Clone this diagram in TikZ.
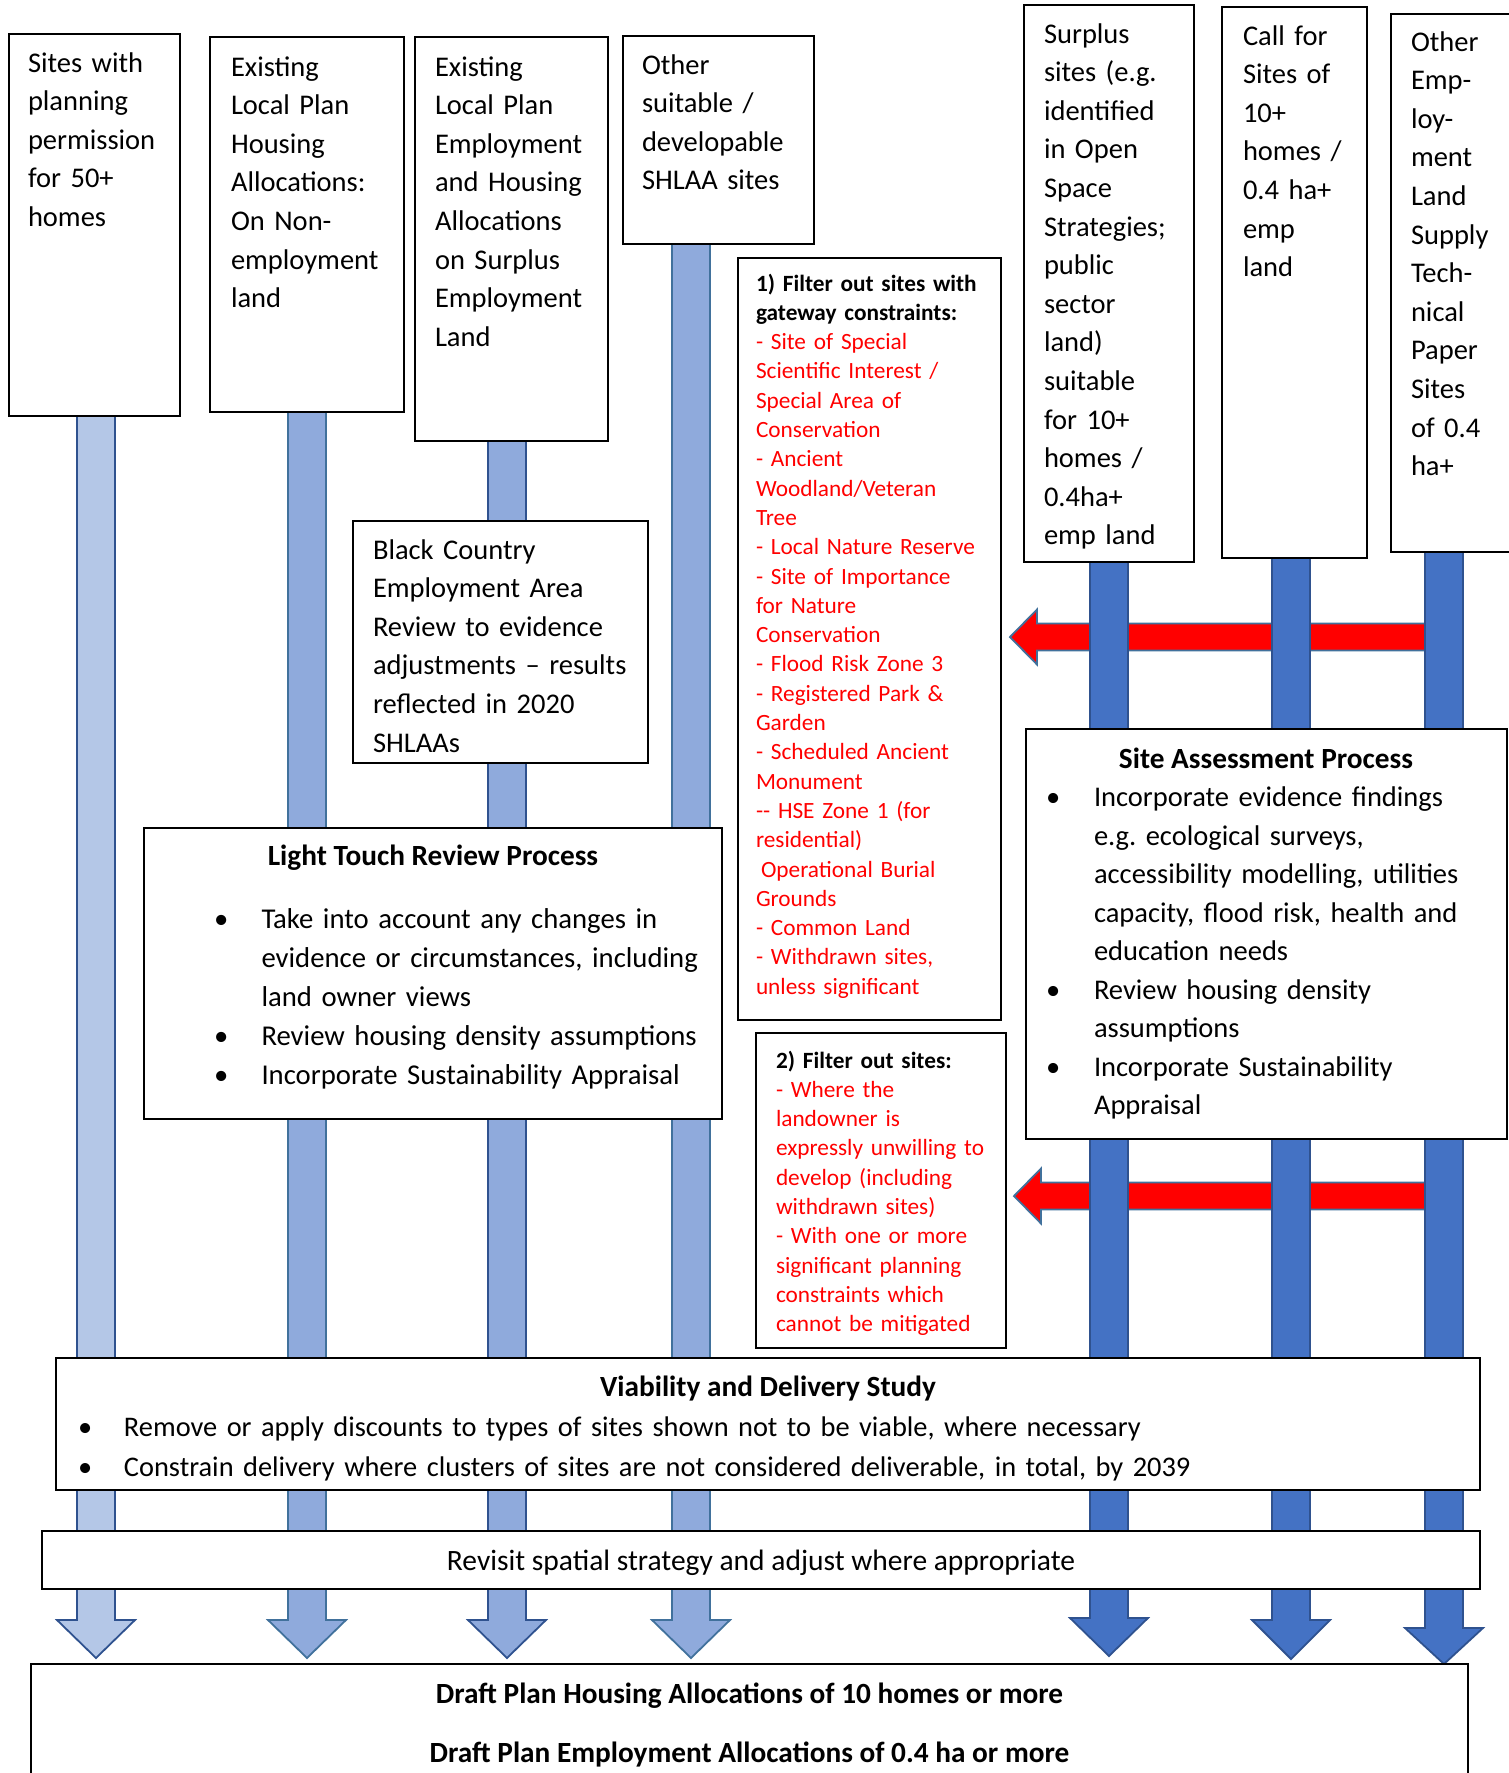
\documentclass[tikz,border=0pt]{standalone}
\usepackage{fontspec}
\setmainfont{Carlito}
\usetikzlibrary{calc}
\definecolor{barA}{HTML}{B4C7E7}
\definecolor{barB}{HTML}{8FAADC}
\definecolor{barE}{HTML}{4472C4}
\definecolor{lnA}{HTML}{2F528F}
\definecolor{lnB}{HTML}{41719C}
\pgfdeclarelayer{back}
\pgfdeclarelayer{backback}
\pgfsetlayers{backback,back,main}
\frenchspacing
\newcommand\blkarrow[5]{%
  \path[fill=#4,draw=#5,line width=1.8pt,line join=miter]
   let \p1=(#1) in
   (\x1-19pt,\y1) -- (\x1+19pt,\y1) -- (\x1+19pt,-#2pt) -- (\x1+39pt,-#2pt)
   -- (\x1,-#3pt) -- (\x1-39pt,-#2pt) -- (\x1-19pt,-#2pt) -- cycle;}
\newcommand\redarr[2]{%
  \path[fill=red,draw=lnB,line width=1.8pt,line join=miter]
   let \p1=(#1), \p2=(#2) in
   (\p1) -- (\x1+27pt,\y1+27.5pt) -- (\x1+27pt,\y1+13.5pt) -- (\x2,\y1+13.5pt)
   -- (\x2,\y1-13.5pt) -- (\x1+27pt,\y1-13.5pt) -- (\x1+27pt,\y1-27.5pt) -- cycle;}
\begin{document}
\begin{tikzpicture}[x=1pt,y=-1pt,
  box/.style={draw=black,line width=1.6pt,fill=white,anchor=north west,inner sep=0pt,outer sep=0pt},
  txt/.style={anchor=north west,inner sep=0pt,outer sep=0pt,align=left,text width=#1,
     font=\frenchspacing\fontsize{28.5}{38.6}\selectfont},
  txt/.default=200pt,
  redtxt/.style={anchor=north west,inner sep=0pt,outer sep=0pt,align=left,text width=#1,
     text=red,font=\frenchspacing\fontsize{23.3}{29.3}\selectfont},
  head/.style={anchor=base,inner sep=0pt,font=\bfseries\fontsize{29.3}{38.6}\selectfont},
  plain/.style={anchor=base,inner sep=0pt,font=\fontsize{29.5}{38.6}\selectfont}
]
\useasboundingbox (0,0) rectangle (1509,1773);

% ---------- boxes ----------
\node[box,minimum width=171pt,minimum height=382pt] (A) at (9,34) {};
\node[box,minimum width=194pt,minimum height=375pt] (B) at (210,37) {};
\node[box,minimum width=193pt,minimum height=404pt] (C) at (415,37) {};
\node[box,minimum width=191pt,minimum height=208pt] (D) at (623,36) {};
\node[box,minimum width=170pt,minimum height=557pt] (E) at (1024,5) {};
\node[box,minimum width=145pt,minimum height=551pt] (F) at (1222,7) {};
\node[box,minimum width=140pt,minimum height=538pt] (G) at (1391,14) {};
\node[box,minimum width=295pt,minimum height=242pt] (BC) at (353,521) {};
\node[box,minimum width=578pt,minimum height=291pt] (LT) at (144,828) {};
\node[box,minimum width=263pt,minimum height=762pt] (F1) at (738,258) {};
\node[box,minimum width=250pt,minimum height=315pt] (F2) at (756,1033) {};
\node[box,minimum width=481pt,minimum height=410pt] (SA) at (1026,729) {};
\node[box,minimum width=1424pt,minimum height=132pt] (VD) at (56,1358) {};
\node[box,minimum width=1438pt,minimum height=58pt] (RV) at (42,1531) {};
\node[box,minimum width=1437pt,minimum height=150pt] (FN) at (31,1664) {};

% ---------- texts ----------
\node[txt=150pt] (At) at (28,45) {\strut Sites with\\planning\\permission\\for 50+\\homes};
\node[txt=170pt] (Bt) at (231,49) {\strut Existing\\Local Plan\\Housing\\Allocations:\\On Non-\\employment\\land};
\node[txt=170pt] (Ct) at (435,49) {\strut Existing\\Local Plan\\Employment\\and Housing\\Allocations\\on Surplus\\Employment\\Land};
\node[txt=170pt] (Dt) at (642,47) {\strut Other\\suitable /\\developable\\SHLAA sites};
\node[txt=150pt] (Et) at (1044,16) {\strut Surplus\\sites (e.g.\\identified\\in Open\\Space\\Strategies;\\public\\sector\\land)\\suitable\\for 10+\\homes /\\0.4ha+\\emp land};
\node[txt=125pt] (Ft) at (1243,18) {\strut Call for\\Sites of\\10+\\homes /\\0.4 ha+\\emp\\land};
\node[txt=100pt] (Gt) at (1411,24) {\strut Other\\Emp-\\loy-\\ment\\Land\\Supply\\Tech-\\nical\\Paper\\Sites\\of 0.4\\ha+};
\node[txt=270pt] (BCt) at (373,532) {\strut Black Country\\Employment Area\\Review to evidence\\adjustments – results\\reflected in 2020\\SHLAAs};

\node[head] (LTh) at (433,865) {Light Touch Review Process};
\node[txt=500pt,font=\frenchspacing\fontsize{28.7}{39.2}\selectfont] (LTt) at (214,900.6)
 {\strut\makebox[47.5pt][l]{•}Take into account any changes in\\
  \hspace*{47.5pt}evidence or circumstances, including\\
  \hspace*{47.5pt}land owner views\\
  \makebox[47.5pt][l]{•}Review housing density assumptions\\
  \makebox[47.5pt][l]{•}Incorporate Sustainability Appraisal};

\node[redtxt=240pt] (F1t) at (756,270.5)
 {\strut\textcolor{black}{\textbf{1) Filter out sites with}}\\
  \textcolor{black}{\textbf{gateway constraints:}}\\
  - Site of Special\\Scientific Interest /\\Special Area of\\Conservation\\
  - Ancient\\Woodland/Veteran\\Tree\\- Local Nature Reserve\\
  - Site of Importance\\for Nature\\Conservation\\- Flood Risk Zone 3\\
  - Registered Park \&\\Garden\\- Scheduled Ancient\\Monument\\
  -{}- HSE Zone 1 (for\\residential)\\\hspace*{5pt}Operational Burial\\Grounds\\
  - Common Land\\- Withdrawn sites,\\unless significant};

\node[redtxt=225pt] (F2t) at (776,1047.5)
 {\strut\textcolor{black}{\textbf{2) Filter out sites:}}\\
  - Where the\\landowner is\\expressly unwilling to\\develop (including\\withdrawn sites)\\
  - With one or more\\significant planning\\constraints which\\cannot be mitigated};

\node[head] (SAh) at (1266,768) {Site Assessment Process};
\node[txt=460pt,font=\frenchspacing\fontsize{28.5}{38.5}\selectfont] (SAt) at (1046,780)
 {\strut\makebox[48pt][l]{•}Incorporate evidence findings\\
  \hspace*{48pt}e.g. ecological surveys,\\
  \hspace*{48pt}accessibility modelling, utilities\\
  \hspace*{48pt}capacity, flood risk, health and\\
  \hspace*{48pt}education needs\\
  \makebox[48pt][l]{•}Review housing density\\
  \hspace*{48pt}assumptions\\
  \makebox[48pt][l]{•}Incorporate Sustainability\\
  \hspace*{48pt}Appraisal};

\node[head] (VDh) at (768,1396) {Viability and Delivery Study};
\node[txt=1380pt,font=\frenchspacing\fontsize{28.4}{40}\selectfont] (VDt) at (78,1408)
 {\strut\makebox[46pt][l]{•}Remove or apply discounts to types of sites shown not to be viable, where necessary\\
  \makebox[46pt][l]{•}Constrain delivery where clusters of sites are not considered deliverable, in total, by 2039};

\node[plain] (RVt) at (761,1570) {Revisit spatial strategy and adjust where appropriate};
\node[head] (FNa) at (749.5,1703) {Draft Plan Housing Allocations of 10 homes or more};
\node[head] (FNb) at (749.5,1762) {Draft Plan Employment Allocations of 0.4 ha or more};

% ---------- column coordinates ----------
\coordinate (cA) at (96,0);
\coordinate (cB) at (307,0);
\coordinate (cC) at (507,0);
\coordinate (cD) at (691,0);
\coordinate (cE) at (1109,0);
\coordinate (cF) at (1291,0);
\coordinate (cG) at (1444,0);

\begin{pgfonlayer}{back}
\blkarrow{cA |- A.south}{1620}{1658}{barA}{lnA}
\blkarrow{cB |- B.south}{1620}{1658}{barB}{lnB}
\blkarrow{cC |- C.south}{1620}{1658}{barB}{lnA}
\blkarrow{cD |- D.south}{1620}{1658}{barB}{lnB}
\blkarrow{cE |- E.south}{1618}{1656}{barE}{lnA}
\blkarrow{cF |- F.south}{1620}{1659}{barE}{lnA}
\blkarrow{cG |- G.south}{1628}{1664}{barE}{lnA}
\end{pgfonlayer}

\coordinate (r1tip) at (1010,637);
\coordinate (r2tip) at (1014,1196);
\begin{pgfonlayer}{backback}
\redarr{r1tip}{cG |- r1tip}
\redarr{r2tip}{cG |- r2tip}
\end{pgfonlayer}
\end{tikzpicture}
\end{document}
